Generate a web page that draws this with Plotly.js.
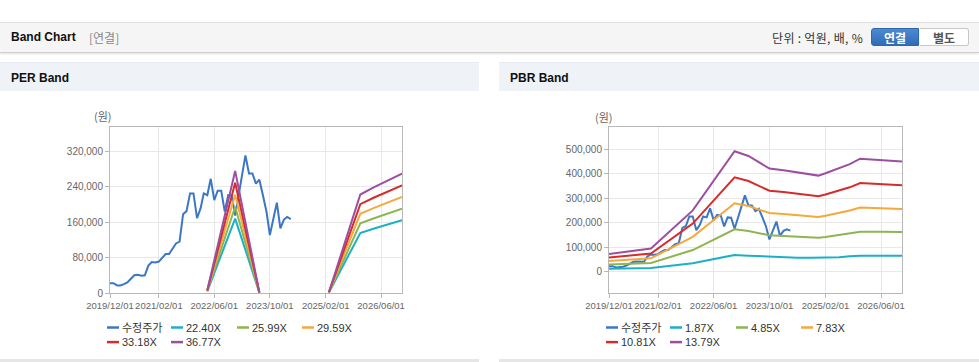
<!DOCTYPE html>
<html><head><meta charset="utf-8">
<script src="https://cdn.plot.ly/plotly-3.0.1.min.js"></script>
<style>
body{margin:0;width:979px;height:362px;overflow:hidden;background:#fff;position:relative;font-family:"Liberation Sans","Noto Sans CJK KR",sans-serif;}
.bar{position:absolute;left:0;top:22px;width:979px;height:29px;background:#f5f5f5;border-top:1px solid #e0e0e0;border-bottom:1px solid #d0d0d0;box-shadow:0 1px 2px rgba(0,0,0,0.12);}
.bt{position:absolute;left:11px;top:0;line-height:29px;font-size:12px;font-weight:bold;color:#111;}
.sub{position:absolute;left:89px;top:0;line-height:29px;font-size:12px;color:#888;font-family:"Noto Sans CJK KR";}
.unit{position:absolute;right:116px;top:0;line-height:29px;font-size:12px;color:#333;font-family:"Noto Sans CJK KR";letter-spacing:0.3px;}
.btn{position:absolute;top:5px;height:18px;width:48px;line-height:18px;text-align:center;font-size:12px;font-weight:bold;font-family:"Noto Sans CJK KR";box-sizing:border-box;}
.b1{left:871px;background:linear-gradient(#4d8ad2,#2f6cb6);color:#fff;border:1px solid #2d67ae;border-radius:3px 0 0 3px;}
.b2{left:920px;width:49px;background:#fff;color:#555;border:1px solid #c8c8c8;border-left:none;border-radius:0 3px 3px 0;}
.ph{position:absolute;top:62px;height:29px;background:#eff3f8;border-top:1px solid #e6ebf1;box-sizing:border-box;}
.pt{position:absolute;left:11px;top:1px;line-height:28px;font-size:12px;font-weight:bold;color:#111;}
.panel{position:absolute;top:91px;height:268px;border-bottom:3px solid #e6e6e6;}
</style></head>
<body>
<div class="bar"><span class="bt">Band Chart</span><span class="sub">[연결]</span><span class="unit">단위 : 억원, 배, %</span>
<div class="btn b1">연결</div><div class="btn b2">별도</div></div>
<div class="ph" style="left:0;width:479px;"><span class="pt">PER Band</span></div>
<div class="ph" style="left:499px;width:480px;"><span class="pt">PBR Band</span></div>
<div id="per" class="panel" style="left:0;width:479px;"></div>
<div id="pbr" class="panel" style="left:499px;width:480px;"></div>
<script>
// ---- data ----
const priceDates = ['2019-12-01','2020-01-01','2020-02-01','2020-03-01','2020-04-01','2020-05-01','2020-06-01','2020-07-01','2020-08-01','2020-09-01','2020-10-01','2020-11-01','2020-12-01','2021-01-01','2021-02-01','2021-03-01','2021-04-01','2021-05-01','2021-06-01','2021-07-01','2021-08-01','2021-09-01','2021-10-01','2021-11-01','2021-12-01','2022-01-01','2022-02-01','2022-03-01','2022-04-01','2022-05-01','2022-06-01','2022-07-01','2022-08-01','2022-09-01','2022-10-01','2022-11-01','2022-12-01','2023-01-01','2023-02-01','2023-03-01','2023-04-01','2023-05-01','2023-06-01','2023-07-01','2023-08-01','2023-09-01','2023-10-01','2023-11-01','2023-12-01','2024-01-01','2024-02-01','2024-03-01','2024-04-01'];
const price = [22000,22000,17000,17000,20000,24000,32000,40000,41000,39000,40000,62000,70000,69000,71000,80000,88000,88000,100000,112000,116000,178000,185000,225000,225000,169000,191000,225000,221000,258000,210000,231000,231000,184000,221000,220000,175000,222000,268000,311000,270000,270000,247000,256000,221000,184000,131000,165000,204000,146000,166000,172000,167000];

const perBandDates = ['2022-04-01','2022-12-01','2023-07-01','2024-06-01','2025-03-01','2025-12-01','2026-04-01','2026-08-01','2026-12-01'];
const per2240 = [3800,168000,900,null,1100,135500,145600,154600,164200];
const per2599 = [4400,194900,1000,null,1300,157200,168900,179300,190500];
const per2959 = [5000,221900,1200,null,1500,179000,192300,204200,216900];
const per3318 = [5600,248900,1300,null,1700,200700,215700,228900,243200];
const per3677 = [6300,275800,1500,null,1800,222500,239000,253700,269500];
const perNames = ['수정주가','22.40X','25.99X','29.59X','33.18X','36.77X'];

const pbrBandDates = ['2019-12-01','2020-12-01','2021-12-01','2022-12-01','2023-04-01','2023-08-01','2023-10-01','2024-02-01','2024-06-01','2024-10-01','2024-12-01','2025-02-01','2025-06-01','2025-09-01','2025-12-01','2026-06-01','2026-12-01'];
const pbr187 = [11000,15000,33800,68000,65000,63000,60000,57000,56500,56500,56500,56500,58000,62000,64500,64500,64500];
const pbr485 = [29000,35000,87800,172700,165900,154700,147900,145500,142100,139200,137700,141100,148800,154200,162000,162000,161000];
const pbr783 = [43000,54000,141700,278700,267800,249800,238800,234900,229400,224700,222400,227900,240200,249000,261500,259200,255300];
const pbr1081 = [57000,73500,195700,384800,369700,344800,329700,324300,316700,310200,307000,314600,331600,343800,361100,357800,352400];
const pbr1379 = [72000,94000,249600,491000,471600,439900,420600,413700,404000,395800,391600,401300,423000,438500,460600,456400,449600];
const pbrNames = ['수정주가','1.87X','4.85X','7.83X','10.81X','13.79X'];

const xTickVals = ['2019-12-01','2021-02-01','2022-06-01','2023-10-01','2025-02-01','2026-06-01'];
const xTickText = ['2019/12/01','2021/02/01','2022/06/01','2023/10/01','2025/02/01','2026/06/01'];
const perYTicks = [0,80000,160000,240000,320000];
const pbrYTicks = [0,100000,200000,300000,400000,500000];
const colors = ['#3c77c6','#1cb0c7','#8db552','#f5a83c','#d72b2b','#9c4f9f'];

function build(div, names, bandDates, bands, yTicks, yRange, unitShift){
  const traces = [{x:priceDates, y:price, name:names[0]}];
  bands.forEach((b,i)=>traces.push({x:bandDates, y:b, name:names[i+1]}));
  traces.forEach((t,i)=>{t.type='scatter';t.mode='lines';t.line={color:colors[i],width:2};t.connectgaps=false;t.hoverinfo='skip';});
  const colOff=[-3,61,127,192];
  const shapes=[], ann=[];
  names.forEach((n,i)=>{
    const r=Math.floor(i/4), c=i%4, yy=-(34.5+r*14.6);
    shapes.push({type:'line',xref:'paper',yref:'paper',xsizemode:'pixel',ysizemode:'pixel',xanchor:0,yanchor:0,x0:colOff[c],x1:colOff[c]+12,y0:yy,y1:yy,line:{color:colors[i],width:2.5}});
    ann.push({xref:'paper',yref:'paper',x:0,y:0,xanchor:'left',yanchor:'middle',xshift:colOff[c]+13,yshift:yy,text:n,showarrow:false,font:{size:11,color:'#333',family:'Liberation Sans, Noto Sans CJK KR'}});
  });
  ann.push({xref:'paper',yref:'paper',x:0,y:1,xanchor:'center',yanchor:'middle',xshift:unitShift[0],yshift:unitShift[1],text:'(원)',showarrow:false,font:{size:11,color:'#666',family:'Noto Sans CJK KR'}});
  const ax = {showgrid:true,gridcolor:'#e8e8e8',gridwidth:1,linecolor:'#b8b8b8',linewidth:1,mirror:true,ticks:'outside',ticklen:4,tickcolor:'#b8b8b8',zeroline:false,fixedrange:true};
  const layout = {
    width: div.id==='per'?479:480, height:268,
    margin:{l:110,r:77,t:36,b:66},
    paper_bgcolor:'#fff', plot_bgcolor:'#fff', showlegend:false,
    font:{family:'Liberation Sans, Noto Sans CJK KR',color:'#666'},
    xaxis:Object.assign({},ax,{type:'date',range:['2019-12-01','2026-12-01'],tickmode:'array',tickvals:xTickVals,ticktext:xTickText,tickangle:0,tickfont:{size:9.5,color:'#666'}}),
    yaxis:Object.assign({},ax,{range:yRange,tickmode:'array',tickvals:yTicks,tickformat:',d',tickfont:{size:10,color:'#666'}}),
    shapes:shapes, annotations:ann
  };
  Plotly.newPlot(div, traces, layout, {staticPlot:true,displayModeBar:false});
}
build(document.getElementById('per'), perNames, perBandDates, [per2240,per2599,per2959,per3318,per3677], perYTicks, [0,375000], [-7,11]);
build(document.getElementById('pbr'), pbrNames, pbrBandDates, [pbr187,pbr485,pbr783,pbr1081,pbr1379], pbrYTicks, [-87500,590000], [-5,10]);
</script>
</body></html>
